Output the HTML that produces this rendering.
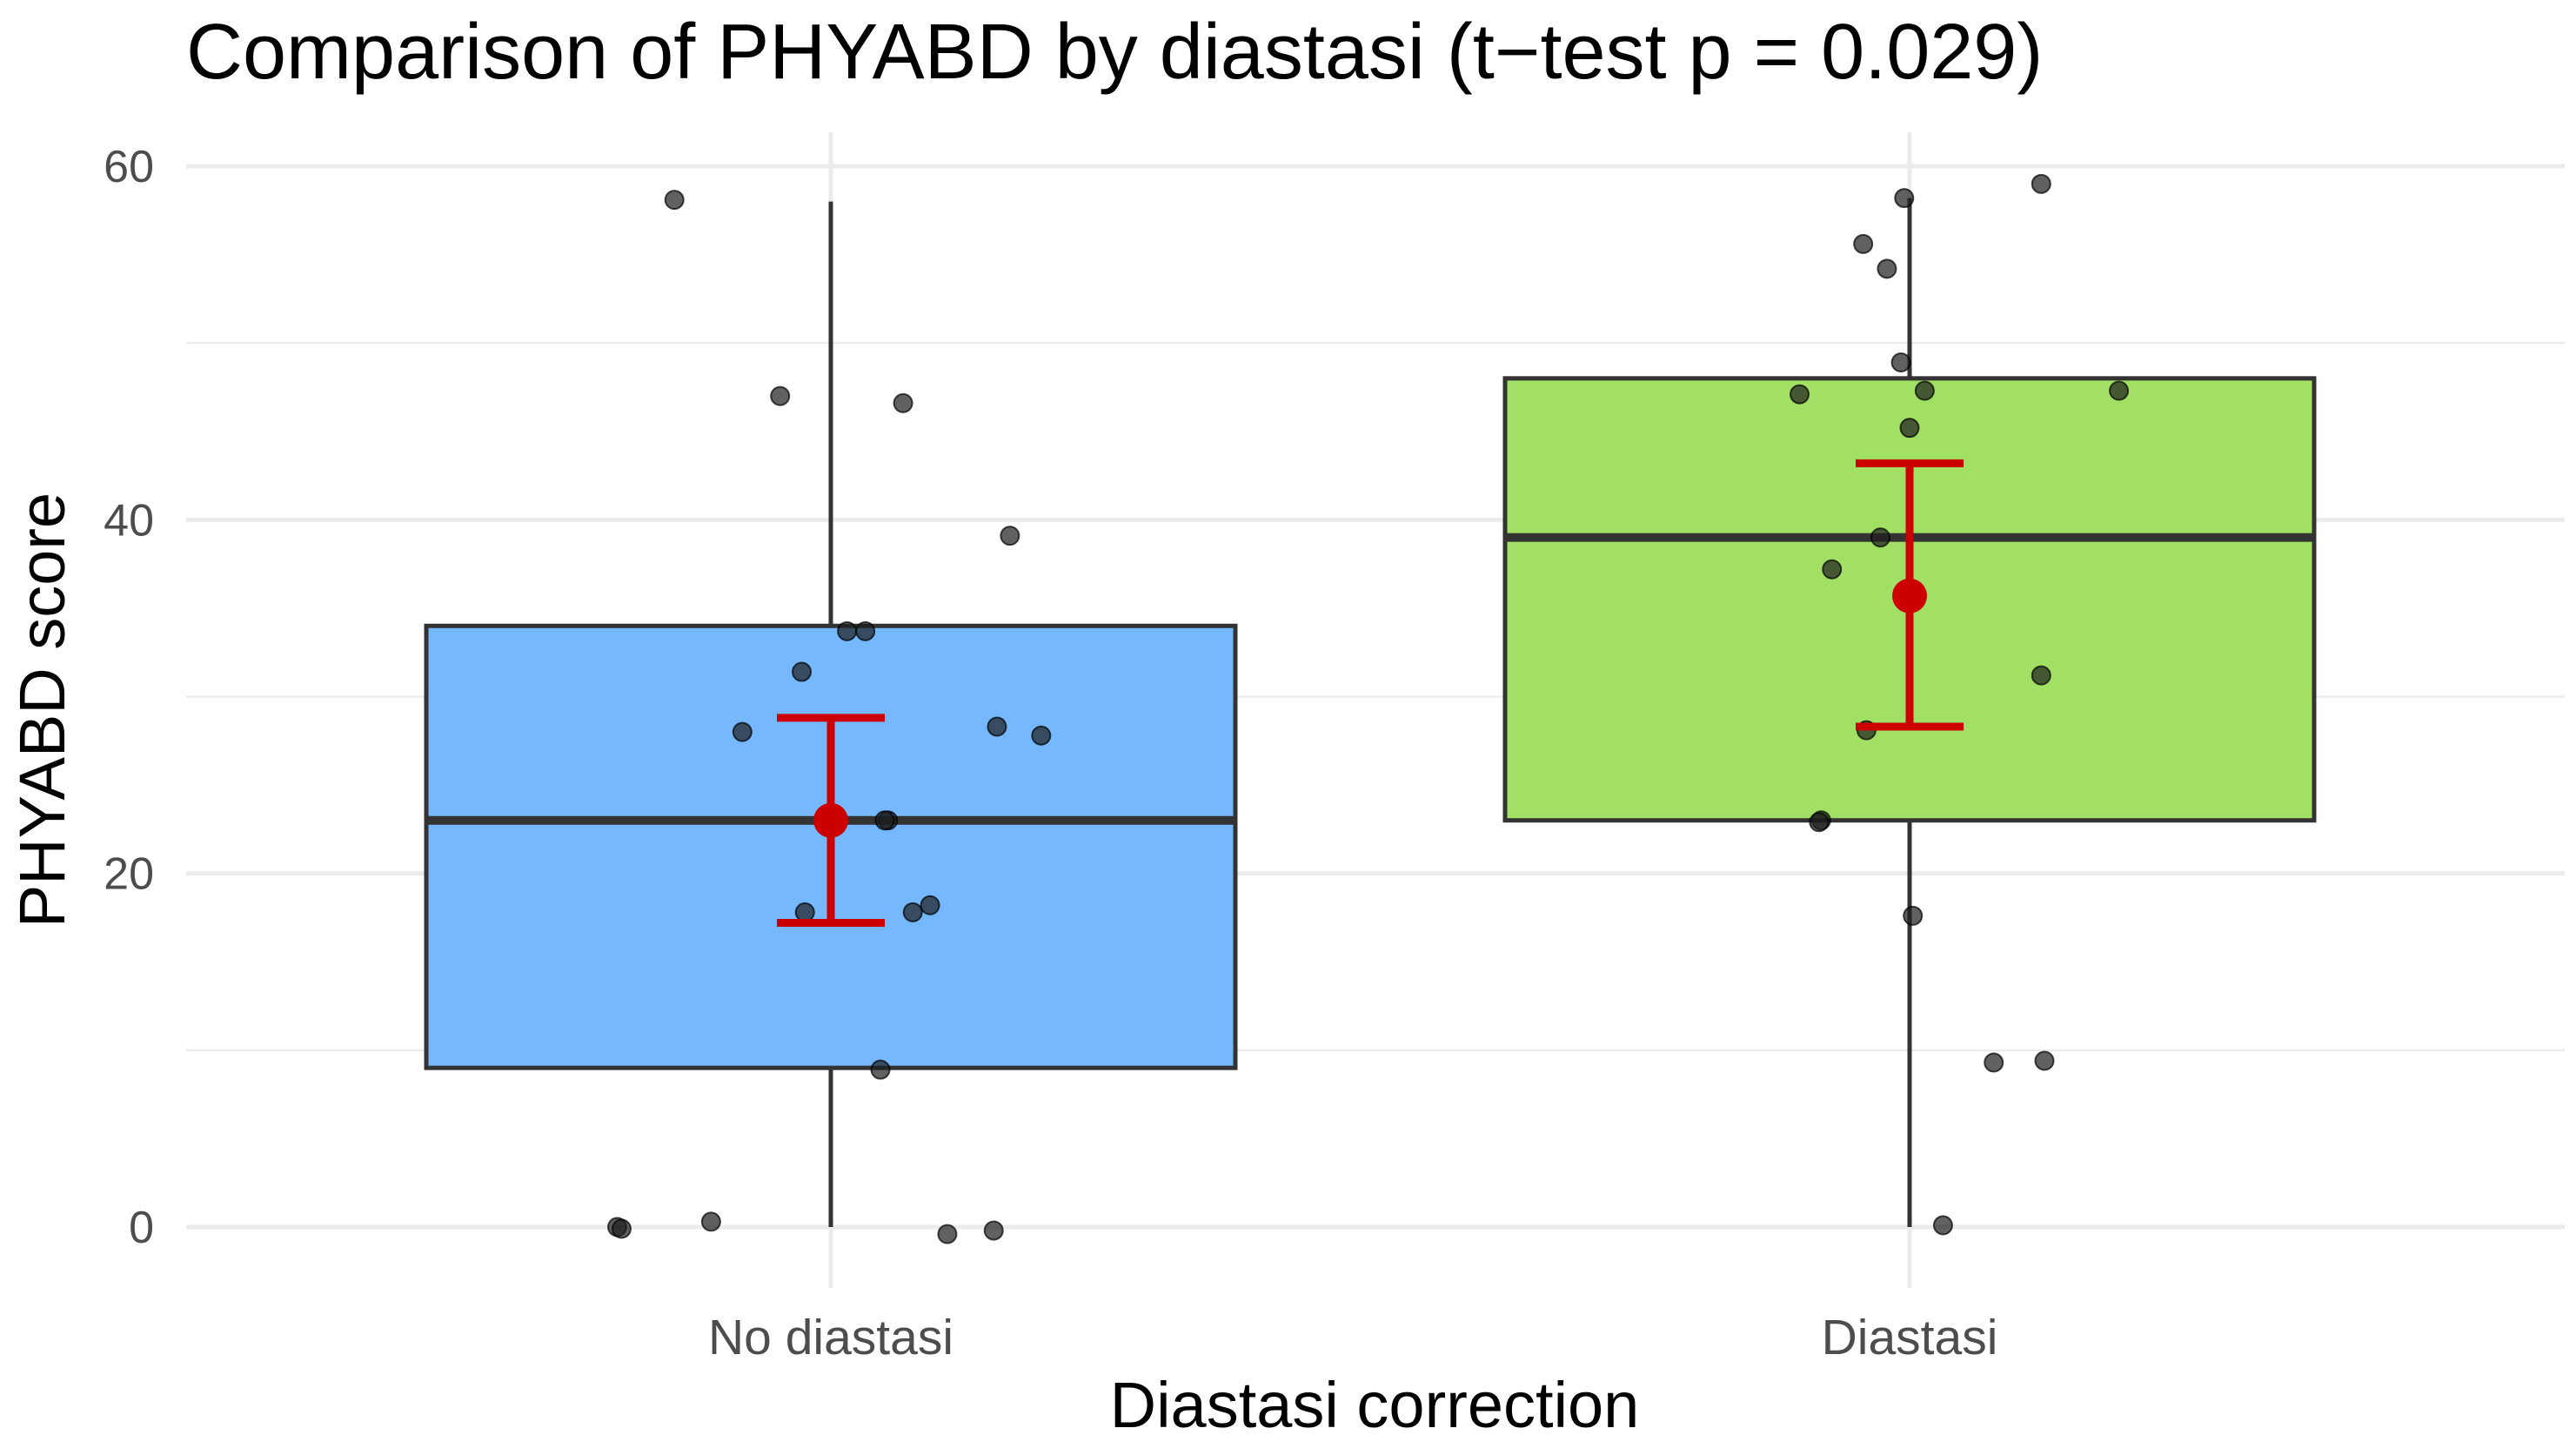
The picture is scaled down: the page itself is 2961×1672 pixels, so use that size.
<!DOCTYPE html>
<html><head><meta charset="utf-8"><style>
html,body{margin:0;padding:0;background:#fff}
svg{display:block;font-family:"Liberation Sans",Arial,sans-serif}
</style></head><body>
<svg id="chart" width="2961" height="1672" viewBox="0 0 2961 1672" xmlns="http://www.w3.org/2000/svg">
<text x="214" y="90" font-size="90" fill="#000">Comparison of PHYABD by diastasi (t−test p = 0.029)</text>
<g id="grid"></g>
<g id="axes"></g>
<g id="boxes"></g>
<g id="points"></g>
<g id="means"></g>
<text x="1580" y="1640" font-size="74" text-anchor="middle" fill="#000">Diastasi correction</text>
<text transform="translate(74,816) rotate(-90)" font-size="74" text-anchor="middle" fill="#000">PHYABD score</text>
</svg>
<script>
const categories = ["No diastasi", "Diastasi"];
const boxFill = ["#76b8fd", "#a1e064"];
const q1 = [9, 23];
const medians = [23, 39];
const q3 = [34, 48];
const whiskerLow = [0, 0];
const whiskerHigh = [58, 58.2];
const means = [23, 35.7];
const ciLow = [17.2, 28.3];
const ciHigh = [28.8, 43.2];
const yTicks = [0, 20, 40, 60];
const yMinor = [10, 30, 50];
const g1Values = [58.1,47,46.6,39.1,33.7,33.7,31.4,28,28.3,27.8,23,23,17.8,17.8,18.2,8.9,0,-0.1,0.3,-0.4,-0.2];
const g1Jitter = [-0.145,-0.047,0.067,0.166,0.015,0.032,-0.027,-0.082,0.154,0.195,0.053,0.050,-0.024,0.076,0.092,0.046,-0.198,-0.194,-0.111,0.108,0.151];
const g2Values = [59,58.2,55.6,54.2,48.9,47.1,47.3,47.3,45.2,39,37.2,31.2,28.1,23,22.9,17.6,9.3,9.4,0.1];
const g2Jitter = [0.122,-0.005,-0.043,-0.021,-0.008,-0.102,0.014,0.194,0,-0.027,-0.072,0.122,-0.040,-0.082,-0.084,0.003,0.078,0.125,0.031];

const NS = "http://www.w3.org/2000/svg";
const X0 = 214, X1 = 2948;
function y(v){ return 1410 - (v/60)*(1410-191); }
function x(c){ return 955 + c*1240; }
function mk(parent, tag, attrs){ const e=document.createElementNS(NS,tag); for(const k in attrs) e.setAttribute(k,attrs[k]); document.getElementById(parent).appendChild(e); return e; }

yMinor.forEach(v=>{
  const l=mk("grid","line",{x1:X0,x2:X1,y1:y(v),y2:y(v),stroke:"#ebebeb","stroke-width":2.5});
  
  
});
yTicks.forEach(v=>{
  const l=mk("grid","line",{x1:X0,x2:X1,y1:y(v),y2:y(v),stroke:"#ebebeb","stroke-width":5});
  
  
  const t=mk("axes","text",{x:177,y:y(v)+18,"font-size":52,"text-anchor":"end",fill:"#4d4d4d"});
  t.textContent=v;
  
  
});
categories.forEach((c,i)=>{
  const l=mk("grid","line",{x1:x(i),x2:x(i),y1:152,y2:1480,stroke:"#ebebeb","stroke-width":5});
  
  
  const t=mk("axes","text",{x:x(i),y:1556,"font-size":57,"text-anchor":"middle",fill:"#4d4d4d"});
  t.textContent=c;
  
  
});
categories.forEach((c,i)=>{
  const w=mk("boxes","line",{x1:x(i),x2:x(i),y1:y(whiskerLow[i]),y2:y(whiskerHigh[i]),stroke:"#333","stroke-width":5});
  
  
  const hw=0.375*1240;
  const r=mk("boxes","rect",{x:x(i)-hw,y:y(q3[i]),width:2*hw,height:y(q1[i])-y(q3[i]),fill:boxFill[i],stroke:"#333","stroke-width":5});
  
  
  const m=mk("boxes","line",{x1:x(i)-hw,x2:x(i)+hw,y1:y(medians[i]),y2:y(medians[i]),stroke:"#333","stroke-width":10});
  
  
});
[[g1Values,g1Jitter],[g2Values,g2Jitter]].forEach((g,i)=>{
  g[0].forEach((v,k)=>{
    const p=mk("points","circle",{cx:x(i+g[1][k]),cy:y(v),r:10.5,fill:"rgba(30,30,30,0.7)",stroke:"rgba(0,0,0,0.7)","stroke-width":2});
    
    
  });
});
categories.forEach((c,i)=>{
  const e=mk("means","line",{x1:x(i),x2:x(i),y1:y(ciLow[i]),y2:y(ciHigh[i]),stroke:"#cc0000","stroke-width":9});
  
  
  [ciLow[i],ciHigh[i]].forEach(v=>{
    const cap=mk("means","line",{x1:x(i)-62,x2:x(i)+62,y1:y(v),y2:y(v),stroke:"#cc0000","stroke-width":9});
    
    
  });
  const d=mk("means","circle",{cx:x(i),cy:y(means[i]),r:20,fill:"#cc0000"});
  
  
});
</script>
</body></html>
